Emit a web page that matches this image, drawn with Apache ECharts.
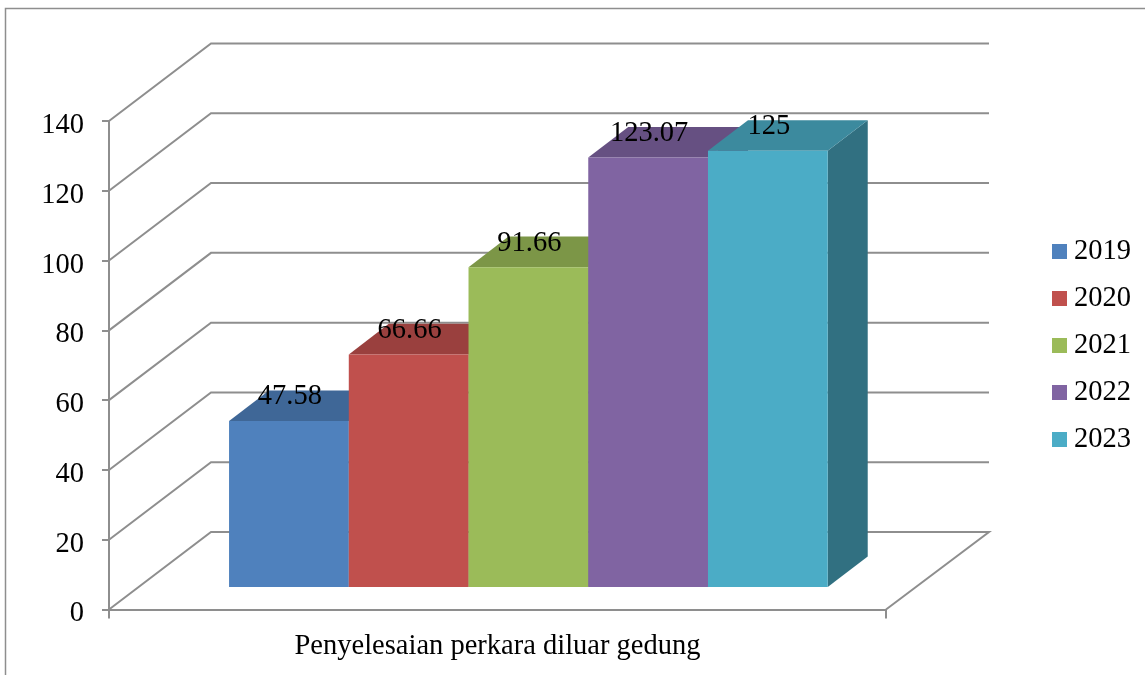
<!DOCTYPE html>
<html>
<head>
<meta charset="utf-8">
<style>html,body{margin:0;padding:0;background:#fff}#chart{width:1145px;height:675px}</style>
<script src="https://cdn.jsdelivr.net/npm/echarts@6/dist/echarts.min.js"></script>
</head>
<body>
<div id="chart"></div>
<script>
const categories = ['Penyelesaian perkara diluar gedung'];
const years = ['2019', '2020', '2021', '2022', '2023'];
const values = [47.58, 66.66, 91.66, 123.07, 125];
const valueLabels = ['47.58', '66.66', '91.66', '123.07', '125'];
const tickValues = [0, 20, 40, 60, 80, 100, 120, 140];
const colors = ['#4f81bd', '#c0504d', '#9bbb59', '#8064a2', '#4bacc6'];

const FONT = '"Liberation Serif", serif';
const TEXT_SIZE = 28.5;
const LINE = '#8e8e8e';

// Oblique projection of the box: how far the back wall and the bars recede.
const WALL_DX = 102, WALL_DX_RIGHT = 103, WALL_DY = -77.5;
const BAR_DX = 40, BAR_DY = -30.6, BAR_LIFT = 22.5;
const BAR_START = -0.3455, BAR_WIDTH = 0.1541;

// Darkened face colour: k is the share of the base colour that is kept.
function shade(c, k) {
  const n = parseInt(c.slice(1), 16);
  const ch = s => Math.round(((n >> s) & 255) * k);
  return 'rgb(' + ch(16) + ',' + ch(8) + ',' + ch(0) + ')';
}

function renderWall(params, api) {
  const p = api.coord([0, api.value(1)]);
  const band = api.size([1, 0])[0];
  const x0 = p[0] - band / 2, x1 = p[0] + band / 2;
  const wall = [[x0, p[1]], [x0 + WALL_DX, p[1] + WALL_DY], [x1 + WALL_DX_RIGHT, p[1] + WALL_DY]];
  if (api.value(1) === 0) wall.push([x1, p[1]]);
  return {
    type: 'polyline',
    shape: { points: wall },
    style: { stroke: LINE, lineWidth: 2, fill: null }
  };
}

function barRenderer(i) {
  return function (params, api) {
    const base = api.coord([0, 0]);
    const top = api.coord([0, api.value(1)]);
    const band = api.size([1, 0])[0];
    const w = band * BAR_WIDTH;
    const l = base[0] + band * BAR_START + i * w;
    const r = l + w;
    const yb = base[1] - BAR_LIFT;
    const yt = top[1] - BAR_LIFT;
    const c = colors[i];
    const poly = (pts, fill) => ({ type: 'polygon', shape: { points: pts }, style: { fill: fill } });
    return {
      type: 'group',
      children: [
        poly([[r, yb], [r + BAR_DX, yb + BAR_DY], [r + BAR_DX, yt + BAR_DY], [r, yt]], shade(c, 0.65)),
        poly([[l, yt], [l + BAR_DX, yt + BAR_DY], [r + BAR_DX, yt + BAR_DY], [r, yt]], shade(c, 0.8)),
        { type: 'rect', shape: { x: l, y: yt, width: w, height: yb - yt }, style: { fill: c } },
        {
          type: 'text', z2: 10,
          style: {
            text: valueLabels[i], x: (l + r) / 2 + 1, y: yt - 24,
            align: 'center', verticalAlign: 'middle',
            font: TEXT_SIZE + 'px ' + FONT, fill: '#000'
          }
        }
      ]
    };
  };
}

const chart = echarts.init(document.getElementById('chart'), null, { renderer: 'canvas' });
chart.setOption({
  animation: false,
  backgroundColor: '#ffffff',
  textStyle: { fontFamily: FONT },
  grid: { left: 109, right: 259, top: 121, bottom: 65.5, containLabel: false },
  legend: {
    orient: 'vertical', left: 1047, top: 230,
    data: years, icon: 'rect', itemWidth: 15, itemHeight: 15, itemGap: 14,
    selectedMode: false,
    textStyle: { fontFamily: FONT, fontSize: TEXT_SIZE, color: '#000', lineHeight: 31, padding: [2, 0, 0, 2] }
  },
  xAxis: {
    type: 'category', data: categories,
    axisLine: { lineStyle: { color: LINE, width: 2 } },
    axisTick: { show: true, length: 9, lineStyle: { color: LINE, width: 2 } },
    axisLabel: { color: '#000', fontSize: TEXT_SIZE, fontFamily: FONT, margin: 23 }
  },
  yAxis: {
    type: 'value', min: 0, max: 140, interval: 20,
    axisLine: { show: true, lineStyle: { color: LINE, width: 2 } },
    axisTick: { show: true, length: 7, lineStyle: { color: LINE, width: 2 } },
    axisLabel: {
      color: '#000', fontSize: TEXT_SIZE, fontFamily: FONT, margin: 25,
      formatter: '{t|{value}}',
      rich: { t: { fontSize: TEXT_SIZE, fontFamily: FONT, color: '#000', padding: [9, 0, 0, 0] } }
    },
    splitLine: { show: false }
  },
  graphic: [
    { type: 'polyline', silent: true, shape: { points: [[5.5, 675], [5.5, 8.5], [1145, 8.5]] },
      style: { stroke: LINE, lineWidth: 1.5, fill: null } }
  ],
  series: [
    {
      type: 'custom', name: 'walls', silent: true, z: 1, clip: false,
      encode: { x: 0, y: 1 },
      data: tickValues.map(v => [0, v]),
      renderItem: renderWall
    }
  ].concat(years.map((y, i) => ({
    type: 'custom', name: y, z: 2 + i, clip: false,
    itemStyle: { color: colors[i] },
    encode: { x: 0, y: 1 },
    data: [[0, values[i]]],
    renderItem: barRenderer(i)
  })))
});
</script>
</body>
</html>
